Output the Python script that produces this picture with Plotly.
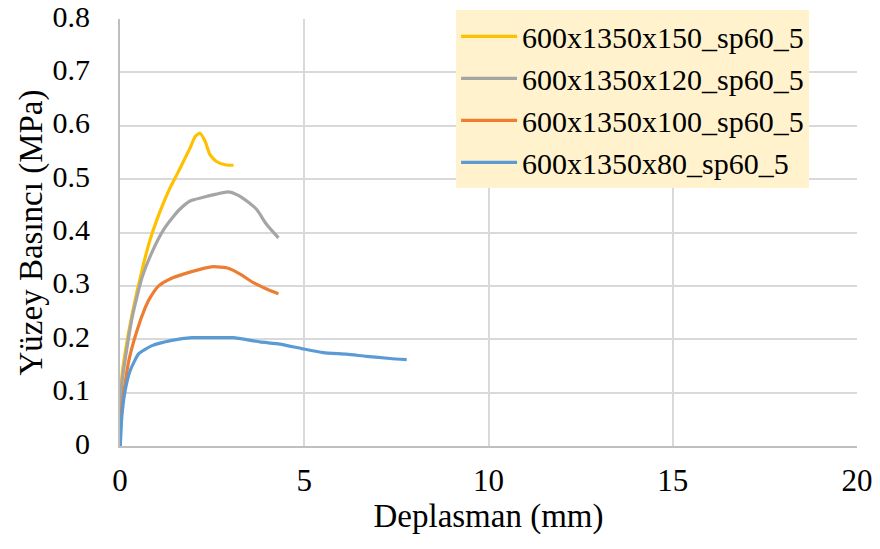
import plotly.graph_objects as go

names = ["600x1350x150_sp60_5", "600x1350x120_sp60_5", "600x1350x100_sp60_5", "600x1350x80_sp60_5"]
colors = ["#FFC000", "#A5A5A5", "#ED7D31", "#5B9BD5"]

x150 = [0, 0.05, 0.14, 0.33, 0.6, 0.81, 1.09, 1.36, 1.54, 1.72, 1.9, 2.04, 2.17, 2.31, 2.44, 2.62, 2.85, 3.08]
y150 = [0, 0.129, 0.175, 0.247, 0.33, 0.385, 0.44, 0.484, 0.508, 0.533, 0.558, 0.58, 0.586, 0.571, 0.546, 0.533, 0.527, 0.526]

x120 = [0, 0.05, 0.33, 0.6, 0.9, 1.18, 1.45, 1.63, 1.9, 2.26, 2.62, 2.94, 3.17, 3.44, 3.71, 3.98, 4.3]
y120 = [0, 0.117, 0.241, 0.316, 0.368, 0.405, 0.43, 0.444, 0.459, 0.466, 0.472, 0.476, 0.471, 0.459, 0.443, 0.415, 0.39]

x100 = [0, 0.01, 0.1, 0.24, 0.46, 0.69, 0.81, 1.05, 1.36, 1.72, 2.17, 2.53, 2.94, 3.26, 3.62, 3.98, 4.3]
y100 = [0, 0.043, 0.098, 0.16, 0.216, 0.26, 0.277, 0.3, 0.313, 0.322, 0.331, 0.336, 0.333, 0.322, 0.306, 0.294, 0.285]

x80 = [0, 0.01, 0.05, 0.14, 0.28, 0.51, 0.87, 1.41, 1.95, 2.5, 3.07, 3.8, 4.34, 4.97, 5.52, 6.15, 6.69, 7.33, 7.78]
y80 = [0, 0.005, 0.055, 0.104, 0.142, 0.173, 0.188, 0.198, 0.203, 0.203, 0.203, 0.195, 0.191, 0.182, 0.175, 0.172, 0.168, 0.164, 0.162]

xs = [x150, x120, x100, x80]
ys = [y150, y120, y100, y80]

FONT = "Liberation Serif"

fig = go.Figure()
for n, c, x, y in zip(names, colors, xs, ys):
    fig.add_trace(go.Scatter(x=x, y=y, mode="lines", name=n,
                             line=dict(color=c, width=3.2, shape="spline", smoothing=0.5)))

fig.update_layout(
    width=880, height=549, autosize=False,
    margin=dict(l=112, r=31, t=11, b=111, autoexpand=False),
    plot_bgcolor="white", paper_bgcolor="white",
    font=dict(family=FONT, size=31, color="black"),
    legend=dict(x=0.456, y=1.02, xanchor="left", yanchor="top",
                bgcolor="#FFF2CC", font=dict(family=FONT, size=30, color="black"),
                traceorder="normal", tracegroupgap=0, itemwidth=56),
    showlegend=True,
)
fig.update_xaxes(range=[0, 20], tickvals=[0, 5, 10, 15, 20], showgrid=True, gridcolor="#D9D9D9", gridwidth=2,
                 showline=True, linecolor="#BFBFBF", linewidth=2, zeroline=False, automargin=False,
                 ticks="", ticklabelstandoff=6, tickfont=dict(family=FONT, size=31, color="black"),
                 title=dict(text="Deplasman (mm)", standoff=2, font=dict(family=FONT, size=33, color="black")))
fig.update_yaxes(range=[0, 0.8], tickvals=[0, 0.1, 0.2, 0.3, 0.4, 0.5, 0.6, 0.7, 0.8],
                 ticktext=["0", "0.1", "0.2", "0.3", "0.4", "0.5", "0.6", "0.7", "0.8"],
                 showgrid=True, gridcolor="#D9D9D9", gridwidth=2, ticklabeloverflow="allow",
                 showline=True, linecolor="#BFBFBF", linewidth=2, zeroline=False, automargin=False,
                 ticks="", ticklabelstandoff=22, ticklabelshift=-3, tickfont=dict(family=FONT, size=30, color="black"),
                 title=dict(text="Yüzey Basıncı (MPa)", standoff=0, font=dict(family=FONT, size=33, color="black")))

fig.write_html("out.html")
